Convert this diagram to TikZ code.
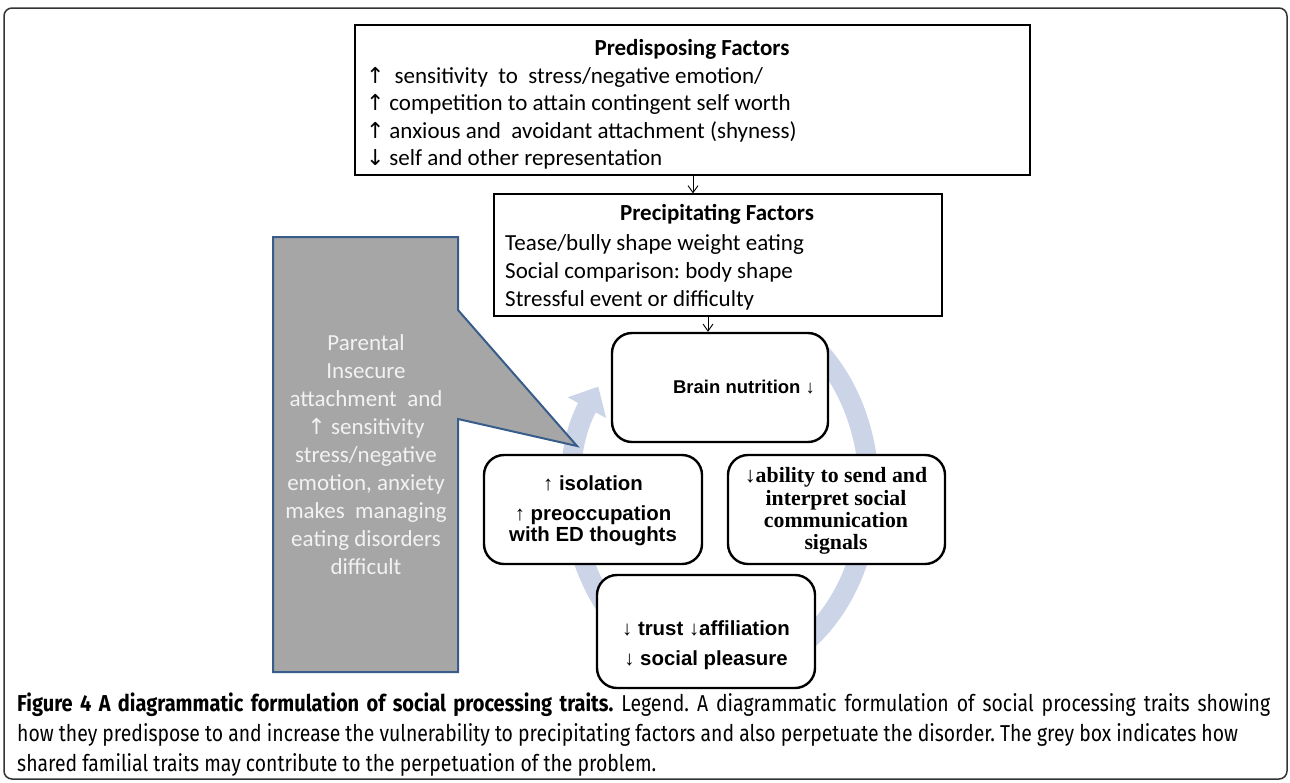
\documentclass[tikz,border=0pt]{standalone}
\usepackage{fontspec}
\setmainfont{Carlito}
\newfontfamily\arialf{Liberation Sans}
\newfontfamily\timesf{Liberation Serif}
\newfontfamily\dejaf{DejaVu Sans}
\newfontfamily\capf[FakeStretch=0.843, BoldFeatures={FakeStretch=0.87}]{Fira Sans}
\usetikzlibrary{arrows.meta,calc}
\definecolor{ringc}{RGB}{204,212,232}
\definecolor{greyfill}{RGB}{166,166,166}
\definecolor{greyline}{RGB}{56,93,138}
\definecolor{greytext}{RGB}{242,242,242}
\newcommand\myup{\makebox[18pt][l]{\dejaf\mdseries\fontsize{22}{28}\selectfont ↑}}
\newcommand\mydown{\makebox[18pt][l]{\dejaf\mdseries\fontsize{22}{28}\selectfont ↓}}
\newcommand\thinup{{\timesf\mdseries ↑}}
\newcommand\thindown{{\timesf\mdseries ↓}}
\frenchspacing
\tikzset{
  sqbox/.style={draw=black, line width=1.2pt, fill=white, inner sep=0pt},
  rbox/.style={draw=black, line width=2.4pt, rounded corners=20pt, fill=white, inner sep=0pt},
  conn/.style={-{Straight Barb[length=7pt,width=10pt]}, line width=0.9pt},
  cal/.style={font=\fontsize{23}{28}\selectfont, inner sep=0pt},
  arb/.style={font=\arialf\bfseries\fontsize{20.4}{22}\selectfont, inner sep=0pt, anchor=base},
  srb/.style={font=\timesf\bfseries\fontsize{21.8}{22.5}\selectfont, inner sep=0pt, anchor=base},
  capt/.style={font=\capf\fontsize{23}{30}\selectfont, inner sep=0pt, anchor=base west},
  ring/.style={draw=ringc, line width=20pt, line cap=butt, -{Triangle[length=24pt,width=42pt]}},
  callout/.style={fill=greyfill, draw=greyline, line width=2pt, line join=miter},
  frame/.style={draw=black!80, line width=1.5pt, rounded corners=8pt},
}
\begin{document}
\begin{tikzpicture}[x=1pt,y=-1pt]
\useasboundingbox (0,0) rectangle (1290,782);
\draw[frame] (4,8) rectangle (1287,779);

% circular arrow (behind boxes)
\coordinate (rc) at (721,490);
\draw[ring] ($(rc)+({148*cos(-50)},{185*sin(-50)})$) arc[start angle=-50, end angle=214, x radius=148, y radius=185];

% boxes
\node[sqbox, minimum width=675pt, minimum height=150pt] (pre) at (692.5,100) {};
\node[sqbox, minimum width=448pt, minimum height=122pt] (prec) at (718,255) {};
\node[rbox, minimum width=216pt, minimum height=109pt] (brain) at (720,387.5) {};
\node[rbox, minimum width=218pt, minimum height=109pt] (iso) at (593,509.5) {};
\node[rbox, minimum width=217pt, minimum height=109pt] (abil) at (836.5,509.5) {};
\node[rbox, minimum width=218pt, minimum height=113pt] (trust) at (706,631.5) {};

% connectors
\coordinate (c1) at (693,0);
\coordinate (c2) at (708,0);
\draw[conn] (pre.south -| c1) -- (prec.north -| c1);
\draw[conn] (prec.south -| c2) -- (brain.north -| c2);

% predisposing text
\node[cal, font=\fontsize{23}{28}\selectfont\bfseries, anchor=base] (pret) at (692,55) {Predisposing Factors};
\node[cal, anchor=base west] (pl1) at (366,83) {\myup\ \ sensitivity\ \ to\ \ stress/negative emotion/};
\node[cal, anchor=base west] (pl2) at (366,110) {\myup\ competition to attain contingent self worth};
\node[cal, anchor=base west] (pl3) at (366,138) {\myup\ anxious and\ \ avoidant attachment (shyness)};
\node[cal, anchor=base west] (pl4) at (366,165) {\mydown\ self and other representation};

% precipitating text
\node[cal, font=\fontsize{23}{28}\selectfont\bfseries, anchor=base] (prect) at (717,220) {Precipitating Factors};
\node[cal, anchor=base west] (ql1) at (505,250) {Tease/bully shape weight eating};
\node[cal, anchor=base west] (ql2) at (505,278) {Social comparison: body shape};
\node[cal, anchor=base west] (ql3) at (505,306) {Stressful event or difficulty};

% cycle texts
\node[arb, font=\arialf\bfseries\fontsize{18.5}{20}\selectfont] (braint) at (744,393) {Brain nutrition \thindown};
\node[arb] (isot1) at (593,490) {\thinup\ isolation};
\node[arb] (isot2) at (593,520) {\thinup\ preoccupation};
\node[arb] (isot3) at (593,541) {with ED thoughts};
\node[srb] (abt1) at (836,482) {\thindown ability to send and};
\node[srb] (abt2) at (836,505) {interpret social};
\node[srb] (abt3) at (836,527) {communication};
\node[srb] (abt4) at (836,549) {signals};
\node[arb] (trt1) at (706,635) {\thindown\ trust \thindown affiliation};
\node[arb] (trt2) at (706,665) {\thindown\ social pleasure};

% grey callout
\draw[callout] (273,237) -- (458,237) -- (458,310) -- (577,446) -- (458,419) -- (458,672) -- (273,672) -- cycle;
\node[cal, text=greytext, align=center] (callt) at (366,455) {Parental\\Insecure\\attachment\ \ and\\{\dejaf\fontsize{22}{28}\selectfont ↑} sensitivity\\stress/negative\\emotion, anxiety\\makes\ \ managing\\eating disorders\\difficult};

% caption
\node[capt] (cap1) at (17,711) {\makebox[1253pt][s]{{\bfseries Figure 4 A diagrammatic formulation of social processing traits.} Legend. A diagrammatic formulation of social processing traits showing}};
\node[capt] (cap2) at (17,741) {how they predispose to and increase the vulnerability to precipitating factors and also perpetuate the disorder. The grey box indicates how};
\node[capt] (cap3) at (17,771) {shared familial traits may contribute to the perpetuation of the problem.};
\end{tikzpicture}
\end{document}
